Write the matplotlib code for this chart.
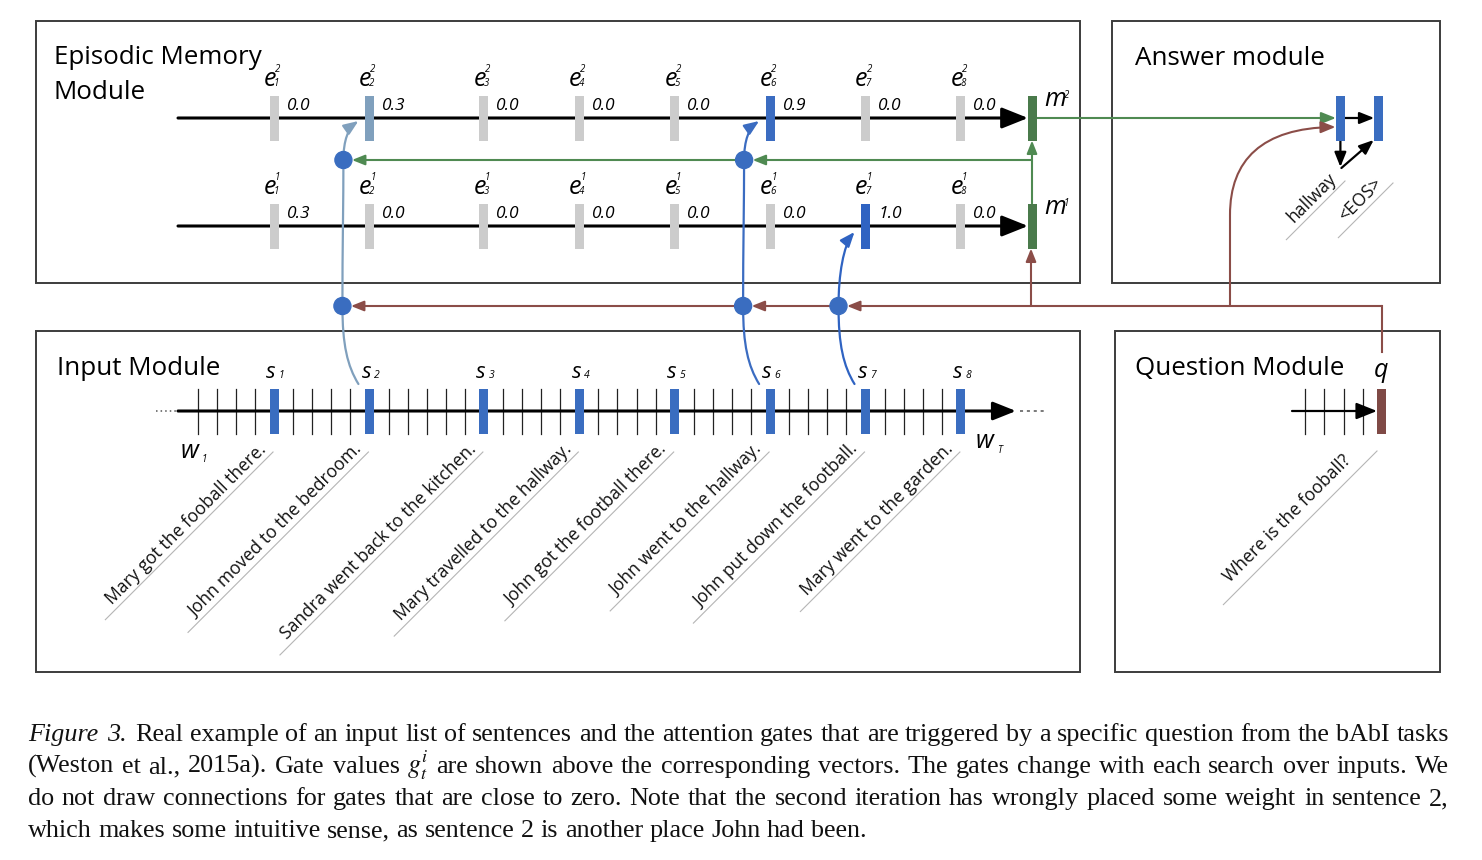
import numpy as np
import matplotlib.pyplot as plt
from matplotlib.patches import Rectangle, Circle, FancyArrowPatch
from matplotlib.path import Path
from matplotlib.colors import to_rgb

plt.rcParams['font.family'] = ['Open Sans', 'DejaVu Sans']

# ---------- data ----------
sentences = [
    "Mary got the fooball there.",
    "John moved to the bedroom.",
    "Sandra went back to the kitchen.",
    "Mary travelled to the hallway.",
    "John got the football there.",
    "John went to the hallway.",
    "John put down the football.",
    "Mary went to the garden.",
]
gates_pass1 = [0.3, 0.0, 0.0, 0.0, 0.0, 0.0, 1.0, 0.0]
gates_pass2 = [0.0, 0.3, 0.0, 0.0, 0.0, 0.9, 0.0, 0.0]
links_pass1 = [7]          # sentence numbers with a drawn connection
links_pass2 = [2, 6]
question = "Where is the fooball?"
question_ticks = 4
answer_words = ["hallway", "<EOS>"]
caption_lines = [
    "*Figure* *3.* Real example of an input list of sentences and the attention gates that are triggered by a specific question from the bAbI tasks",
    "(Weston et al., 2015a). Gate values $g_t^i$ are shown above the corresponding vectors. The gates change with each search over inputs. We",
    "do not draw connections for gates that are close to zero. Note that the second iteration has wrongly placed some weight in sentence 2,",
    "which makes some intuitive sense, as sentence 2 is another place John had been.",
]

# ---------- layout (pixels) ----------
X0, DX = 197.7, 19.08
Y_E2, Y_E1, Y_IN = 118, 226, 411
Y_GREEN, Y_BROWN = 160, 306
M_X = 1032
BAR_W, BAR_H = 9, 45
R_DOT = 8.5
TITLE = 18.7
SENT = 12.7

GRAY = '#cccccc'
BLUE = '#3a6dc0'
GREEN = '#4f8a52'
DKGREEN = '#4a7a4b'
BROWN = '#8b4d48'
BOX = '#3c3c3c'


def gate_color(g):
    if g < 0.05:
        return GRAY
    t = (g - 0.3) / 0.7
    a = np.array(to_rgb('#80a0bd'))
    b = np.array(to_rgb('#2f63c2'))
    return tuple(a + (b - a) * t)


fig = plt.figure(figsize=(14.82, 8.60), dpi=100)
ax = fig.add_axes([0, 0, 1, 1])
ax.set_xlim(0, 1482)
ax.set_ylim(860, 0)
ax.axis('off')


def bar(x, y, color):
    ax.add_patch(Rectangle((x - BAR_W / 2, y - BAR_H / 2), BAR_W, BAR_H,
                           color=color, lw=0, zorder=4))


def arrow(p0, p1, color, lw=1.5, ms=16, hl=0.55, hw=0.22, z=3):
    a = FancyArrowPatch(p0, p1, arrowstyle=f'-|>,head_length={hl},head_width={hw}',
                        mutation_scale=ms, color=color, lw=lw,
                        shrinkA=0, shrinkB=0, zorder=z)
    ax.add_patch(a)


def path_arrow(verts, codes, color, lw=1.6, ms=16):
    a = FancyArrowPatch(path=Path(verts, codes), arrowstyle='-|>,head_length=0.55,head_width=0.22',
                        mutation_scale=ms, color=color, lw=lw, zorder=3)
    ax.add_patch(a)


def sub_label(x, y, base, sup=None, sub=None, size=18, ssize=7, dx=4):
    ax.text(x, y, base, style='italic', ha='center', va='baseline', fontsize=size)
    if sup is not None:
        ax.text(x + dx + 1, y - 15, sup, style='italic', ha='left', va='baseline', fontsize=ssize)
    if sub is not None:
        ax.text(x + dx, y, sub, style='italic', ha='left', va='baseline', fontsize=ssize)


# ---------- module boxes ----------
for x0, y0, x1, y1 in [(36, 21, 1080, 283), (1112, 21, 1440, 283),
                       (36, 331, 1080, 672), (1115, 331, 1440, 672)]:
    ax.add_patch(Rectangle((x0, y0), x1 - x0, y1 - y0, fill=False, ec=BOX, lw=1.4, zorder=1))

ax.text(54, 64.3, "Episodic Memory", fontsize=TITLE, va='baseline')
ax.text(54, 99.3, "Module", fontsize=TITLE, va='baseline')
ax.text(1135, 65, "Answer module", fontsize=TITLE, va='baseline')
ax.text(57, 375, "Input Module", fontsize=TITLE, va='baseline')
ax.text(1135, 375, "Question Module", fontsize=TITLE, va='baseline')

# ---------- input module ----------
word_end = np.cumsum([len(s.split()) for s in sentences]) - 1
xs = X0 + word_end * DX
n_words = word_end[-1] + 1

ax.plot([156, 176], [Y_IN, Y_IN], ls=(0, (1, 2)), color='#555555', lw=1.1)
ax.plot([1020, 1047], [Y_IN, Y_IN], ls=(0, (2, 2.5)), color='#555555', lw=1.1)
arrow((178, Y_IN), (1016, Y_IN), 'black', lw=2.2, ms=20, hl=0.7, hw=0.28)
for k in range(n_words):
    if k in word_end:
        continue
    x = X0 + k * DX
    ax.plot([x, x], [389, 434], color='#222222', lw=0.9, zorder=2)

for i, x in enumerate(xs):
    bar(x, Y_IN, BLUE)
    ax.text(x - 3, 377.5, "s", style='italic', ha='center', va='baseline', fontsize=16)
    ax.text(x + 4.5, 378.5, str(i + 1), style='italic', ha='left', va='baseline', fontsize=7.5)

ax.text(190, 458.5, "w", style='italic', ha='center', va='baseline', fontsize=18)
ax.text(202, 461.5, "1", style='italic', ha='left', va='baseline', fontsize=7)
ax.text(985, 448.5, "w", style='italic', ha='center', va='baseline', fontsize=18)
ax.text(997.5, 453, "T", style='italic', ha='left', va='baseline', fontsize=7)

renderer = fig.canvas.get_renderer()


def slanted(x_txt, y_txt, txt, x_line, y_line, size=SENT):
    t = ax.text(x_txt, y_txt, txt, rotation=45, rotation_mode='anchor',
                ha='right', va='baseline', fontsize=size, color='#111111')
    bb = t.get_window_extent(renderer)
    x_end = bb.x0 + 3
    ax.plot([x_line, x_end], [y_line, y_line + (x_line - x_end)], color='#b5b5b5', lw=0.8)


for x, s in zip(xs, sentences):
    slanted(x - 7, 450, s, x - 1, 452)

# ---------- question module ----------
QX = 1381.4
arrow((1292, Y_IN), (1377, Y_IN), 'black', lw=1.6, ms=18, hl=0.7, hw=0.28)
for k in range(question_ticks):
    x = 1305 + k * 19.3
    ax.plot([x, x], [389, 434], color='#222222', lw=0.9)
bar(QX, Y_IN, '#7f4a46')
ax.text(QX, 377, "q", style='italic', ha='center', va='baseline', fontsize=18)
slanted(1352, 461, question, 1377, 451)

# ---------- episodic memory ----------
for y, gates, links, sup in [(Y_E2, gates_pass2, links_pass2, "2"),
                             (Y_E1, gates_pass1, links_pass1, "1")]:
    arrow((178, y), (1028, y), 'black', lw=2.2, ms=20, hl=0.8, hw=0.32)
    for i, (x, g) in enumerate(zip(xs, gates)):
        # only the gates that get a drawn connection are coloured
        bar(x, y, gate_color(g) if (i + 1) in links else GRAY)
        sub_label(x - 4, y - 31.5, "e", sup, str(i + 1))
        ax.text(x + 12.5, y - 8, f"{g:.1f}", style='italic', ha='left', va='baseline', fontsize=12.5)
    bar(M_X, y, DKGREEN)
    ax.text(1044, y - 11.5, "m", style='italic', ha='left', va='baseline', fontsize=18)
    ax.text(1064, y - 20, sup, style='italic', ha='left', va='baseline', fontsize=7)

# m1 -> m2 and m1 fed back along the green line
arrow((M_X, Y_E1 - BAR_H / 2), (M_X, Y_E2 + BAR_H / 2), GREEN, lw=1.5, ms=14)
green_dots = sorted([xs[i - 1] - 26 for i in links_pass2], reverse=True)
prev = M_X
for xc in green_dots:
    arrow((prev, Y_GREEN), (xc + R_DOT, Y_GREEN), GREEN, lw=1.5, ms=14)
    prev = xc

# question fed along the brown line
ax.plot([1382, 1382], [352, Y_BROWN], color=BROWN, lw=1.5)
brown_dots = sorted([xs[i - 1] - 27 for i in set(links_pass1 + links_pass2)], reverse=True)
prev = 1382
for xc in brown_dots:
    arrow((prev, Y_BROWN), (xc + R_DOT, Y_BROWN), BROWN, lw=1.5, ms=14)
    prev = xc
arrow((1031, Y_BROWN), (1031, Y_E1 + BAR_H / 2), BROWN, lw=1.5, ms=14)

# attention links from sentences to gates
C4 = Path.CURVE4
for i in links_pass2:
    x = xs[i - 1]
    verts = [(x - 11, 384), (x - 22, 366), (x - 27, 345), (x - 27, Y_BROWN),
             (x - 27, 250), (x - 26, 200), (x - 26, Y_GREEN),
             (x - 26, 140), (x - 21, 128), (x - 11, 121)]
    codes = [Path.MOVETO] + [C4] * 9
    path_arrow(verts, codes, gate_color(gates_pass2[i - 1]))
for i in links_pass1:
    x = xs[i - 1]
    verts = [(x - 11, 384), (x - 22, 366), (x - 27, 345), (x - 27, Y_BROWN),
             (x - 27, 275), (x - 22, 245), (x - 11, 232)]
    codes = [Path.MOVETO] + [C4] * 6
    path_arrow(verts, codes, gate_color(gates_pass1[i - 1]))

for xc in green_dots:
    ax.add_patch(Circle((xc, Y_GREEN), R_DOT, color=BLUE, zorder=5))
for xc in brown_dots:
    ax.add_patch(Circle((xc, Y_BROWN), R_DOT, color=BLUE, zorder=5))

# ---------- answer module ----------
AX1, AX2 = 1340.4, 1378.7
arrow((M_X + 4, Y_E2), (AX1 - 4.5, Y_E2), GREEN, lw=1.5, ms=16)
verts = [(1230, Y_BROWN), (1230, 215), (1230, 160), (1262, 128), (1335.5, 127)]
codes = [Path.MOVETO, Path.LINETO, C4, C4, C4]
path_arrow(verts, codes, BROWN, lw=1.5)
bar(AX1, Y_E2 + 0.5, BLUE)
bar(AX2, Y_E2 + 0.5, BLUE)
arrow((AX1 + 4.5, Y_E2), (AX2 - 4.5, Y_E2), 'black', lw=1.6, ms=16)
arrow((AX1, Y_E2 + 23), (AX1, 167), 'black', lw=1.6, ms=16)
arrow((AX1 + 1, 168), (AX2 - 5, 140), 'black', lw=1.6, ms=16)
slanted(1337, 179, answer_words[0], 1345, 181)
slanted(1383, 184, answer_words[1], 1393, 183)

# ---------- caption ----------
CAP_SIZE = 18.8
CAP_X0, CAP_X1 = 28, 1449
CAP_KW = dict(fontsize=CAP_SIZE, family='Liberation Serif', va='baseline', ha='left', color='#111111')


def cap_word(x, y, w, tail=''):
    if w.startswith('*'):
        return ax.text(x, y, w.strip('*') + tail, style='italic', **CAP_KW)
    if w.startswith('$'):
        return ax.text(x, y, w + tail, math_fontfamily='stix', **CAP_KW)
    return ax.text(x, y, w + tail, **CAP_KW)


def advance(w):
    # width of the word measured as the distance it pushes a following glyph
    t1 = cap_word(0, -200, w, '|')
    t2 = cap_word(0, -200, '|')
    wd = t1.get_window_extent(renderer).width - t2.get_window_extent(renderer).width
    t1.remove()
    t2.remove()
    return wd


space = advance("a a") - advance("aa")

for j, line in enumerate(caption_lines):
    y = 741 + 32 * j
    words = line.split()
    widths = [advance(w) for w in words]
    if j < len(caption_lines) - 1:
        gap = (CAP_X1 - CAP_X0 - sum(widths)) / (len(words) - 1)
    else:
        gap = space
    x = CAP_X0
    for w, wd in zip(words, widths):
        cap_word(x, y, w)
        x += wd + gap

fig.savefig('out.png', dpi=100)
